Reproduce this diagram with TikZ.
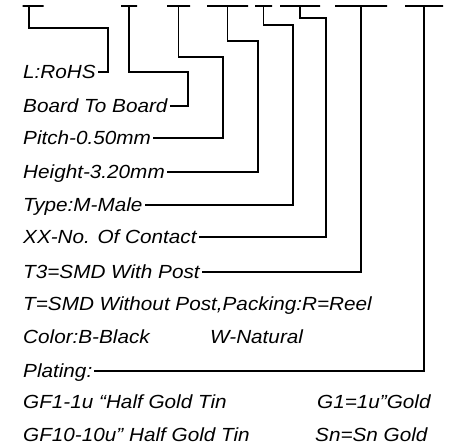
\documentclass[tikz,border=0pt]{standalone}
\usepackage{fontspec}
\newfontfamily\isofont{Liberation Sans}[FakeStretch=1.09]
\usepackage{xcolor}

\begin{document}
\begin{tikzpicture}[
  x=1pt, y=-1pt,
  font=\isofont\itshape\fontsize{19}{21}\selectfont,
  lbl/.style={anchor=west, inner xsep=2pt, inner ysep=0pt, text height=13.6pt, text depth=0pt},
  tbar/.style={draw, line width=1.6pt, inner sep=0pt, minimum height=0pt},
  lead/.style={line width=1.6pt}
]
\useasboundingbox (0,0) rectangle (467,445);

% top bars, one per code position
\node[tbar, minimum width=21pt] (b1) at (33,6)    {};
\node[tbar, minimum width=16pt] (b2) at (129,6)   {};
\node[tbar, minimum width=23pt] (b3) at (178.5,6) {};
\node[tbar, minimum width=41pt] (b4) at (227.5,6) {};
\node[tbar, minimum width=17pt] (b5) at (263.5,6) {};
\node[tbar, minimum width=40pt] (b6) at (300,6)   {};
\node[tbar, minimum width=52pt] (b7) at (361,6)   {};
\node[tbar, minimum width=38pt] (b8) at (424,6)   {};

% legend rows -- 33pt apart
\node[lbl] (rohs)    at (21,72)  {L:RoHS};
\node[lbl] (board)   at (21,106) {Board To Board};
\node[lbl] (pitch)   at (21,138) {Pitch-0.50mm};
\node[lbl] (height)  at (21,172) {Height-3.20mm};
\node[lbl] (type)    at (21,205) {Type:M-Male};
\node[lbl] (contact) at (21,237) {XX-No. Of Contact};
\node[lbl] (post)    at (21,272) {T3=SMD With Post};
\node[lbl] (nopost)  at (21,304) {T=SMD Without Post,Packing:R=Reel};
\node[lbl] (color)   at (21,337) {Color:B-Black};
\node[lbl] (natural) at (208,337){W-Natural};
\node[lbl] (plating) at (21,371) {Plating:};
\node[lbl] (gfone)   at (21,402) {GF1-1u “Half Gold Tin};
\node[lbl] (gone)    at (315,402){G1=1u”Gold};
\node[lbl] (gften)   at (21,435) {GF10-10u” Half Gold Tin};
\node[lbl] (sn)      at (313,435){Sn=Sn Gold};

% leaders from bars down to their rows
\draw[lead] ([xshift=-4pt]b1.center) |- (108,28) |- (rohs.east);
\draw[lead] (b2.center) |- (188,72) |- (board.east);
\draw[lead] (b3.center) |- (223,57) |- (pitch.east);
\draw[lead] (b4.center) |- (258,41) |- (height.east);
\draw[lead] (b5.center) |- (293,25) |- (type.east);
\draw[lead] (b6.center) |- (326,18) |- (contact.east);
\draw[lead] (b7.center) |- (post.east);
\draw[lead] (b8.center) |- (plating.east);

\end{tikzpicture}
\end{document}
